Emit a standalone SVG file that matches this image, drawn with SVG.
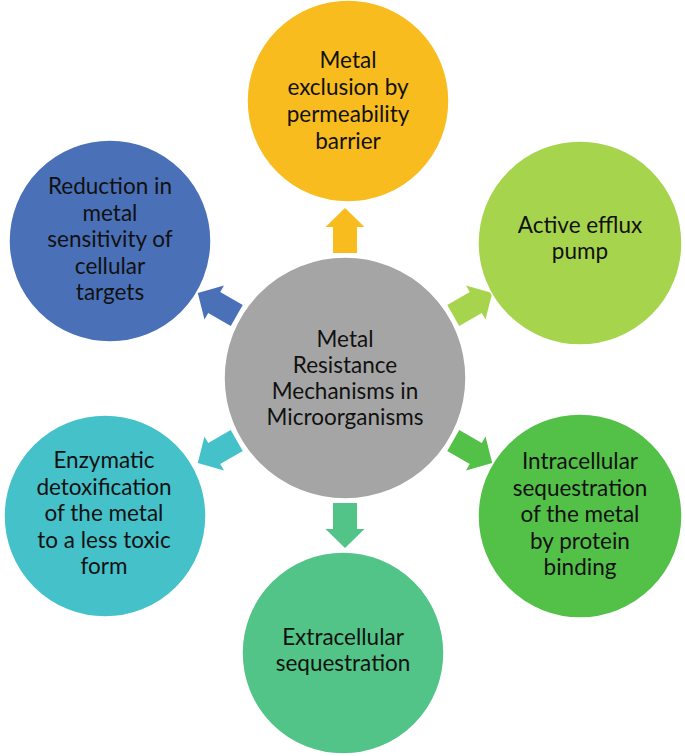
<svg xmlns="http://www.w3.org/2000/svg" width="685" height="756" viewBox="0 0 685 756">
<style>
  text { font-family: Lato, "Open Sans", "Liberation Sans", sans-serif; font-size: 22.5px; fill: #111111; text-anchor: middle; }
  .node circle { stroke: #ffffff; stroke-width: 1.5; }
</style>
<defs>
  <path id="arr" d="M-12,-125 L-12,-151 L-19.5,-151 L0,-170 L19.5,-151 L12,-151 L12,-125 Z"/>
</defs>
<rect width="685" height="756" fill="#ffffff"/>
<g id="connectors">
  <use href="#arr" transform="translate(345,378) rotate(0)" fill="#F8BC1F"/>
  <use href="#arr" transform="translate(345,378) rotate(60)" fill="#A6D44C"/>
  <use href="#arr" transform="translate(345,378) rotate(120)" fill="#53C048"/>
  <use href="#arr" transform="translate(345,378) rotate(180)" fill="#52C487"/>
  <use href="#arr" transform="translate(345,378) rotate(240)" fill="#45C1CA"/>
  <use href="#arr" transform="translate(345,378) rotate(300)" fill="#4A70B8"/>
</g>
<g id="center" class="node">
  <circle cx="345" cy="378" r="121" fill="#A5A5A5"/>
  <text x="345" y="347">Metal</text>
  <text x="345" y="373">Resistance</text>
  <text x="345" y="399">Mechanisms in</text>
  <text x="345" y="425">Microorganisms</text>
</g>
<g id="exclusion" class="node">
  <circle cx="348" cy="101" r="101" fill="#F8BC1F"/>
  <text x="348" y="68">Metal</text>
  <text x="348" y="95">exclusion by</text>
  <text x="348" y="122">permeability</text>
  <text x="348" y="149">barrier</text>
</g>
<g id="efflux" class="node">
  <circle cx="580" cy="243" r="102" fill="#A6D44C"/>
  <text x="580" y="233">Active efflux</text>
  <text x="580" y="259">pump</text>
</g>
<g id="intracellular" class="node">
  <circle cx="580" cy="516" r="102" fill="#53C048"/>
  <text x="580" y="469">Intracellular</text>
  <text x="580" y="495.5">sequestration</text>
  <text x="580" y="522">of the metal</text>
  <text x="580" y="548.5">by protein</text>
  <text x="580" y="575">binding</text>
</g>
<g id="extracellular" class="node">
  <circle cx="343" cy="653" r="101" fill="#52C487"/>
  <text x="343" y="645">Extracellular</text>
  <text x="343" y="671">sequestration</text>
</g>
<g id="enzymatic" class="node">
  <circle cx="105" cy="516" r="101" fill="#45C1CA"/>
  <text x="104" y="468">Enzymatic</text>
  <text x="104" y="494.5">detoxification</text>
  <text x="104" y="521">of the metal</text>
  <text x="104" y="547.5">to a less toxic</text>
  <text x="104" y="574">form</text>
</g>
<g id="reduction" class="node">
  <circle cx="110" cy="241" r="101" fill="#4A70B8"/>
  <text x="110" y="194">Reduction in</text>
  <text x="110" y="220.5">metal</text>
  <text x="110" y="247">sensitivity of</text>
  <text x="110" y="273.5">cellular</text>
  <text x="110" y="300">targets</text>
</g>
</svg>
